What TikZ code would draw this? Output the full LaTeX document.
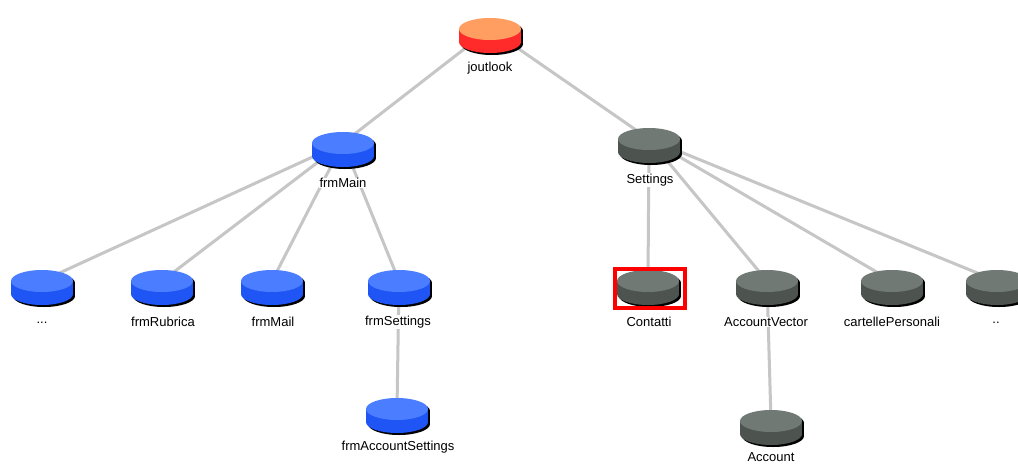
\documentclass[tikz,border=0pt]{standalone}
\usepackage{fontspec}
\setmainfont{Liberation Sans}
\definecolor{bluetop}{HTML}{4A7DFF}
\definecolor{blueside}{HTML}{1F55F5}
\definecolor{graytop}{HTML}{717974}
\definecolor{grayside}{HTML}{4D5450}
\definecolor{redtop}{HTML}{FF9E60}
\definecolor{redside}{HTML}{FF2A2A}
\definecolor{edgegray}{HTML}{C6C6C6}
\tikzset{
  pics/disk/.style 2 args={code={
    \fill[black] (2,2) ellipse [x radius=31, y radius=11];
    \fill[black] (-29,2) rectangle (33,15);
    \fill[black] (2,15) ellipse [x radius=31, y radius=11];
    \fill[#2] (-31,0) rectangle (31,13);
    \fill[#2] (0,13) ellipse [x radius=31, y radius=11];
    \fill[#1] (0,0) ellipse [x radius=31, y radius=11];
  }},
  lbl/.style={font=\fontsize{13}{15}\selectfont, fill=white, inner sep=0.5pt},
  link/.style={draw=edgegray, line width=3pt},
  pt/.style={coordinate}
}
\begin{document}
\begin{tikzpicture}[x=1pt, y=-1pt]
\useasboundingbox (0,0) rectangle (1018,464);
\fill[white] (0,0) rectangle (1018,464);
% centres
\node[pt] (joutlook) at (490,29) {};
\node[pt] (frmMain) at (343,143) {};
\node[pt] (Settings) at (649,139) {};
\node[pt] (dots3) at (42,281) {};
\node[pt] (frmRubrica) at (162,281) {};
\node[pt] (frmMail) at (272,281) {};
\node[pt] (frmSettings) at (399,281) {};
\node[pt] (Contatti) at (648,281) {};
\node[pt] (AccountVector) at (767,281) {};
\node[pt] (cartellePersonali) at (892,281) {};
\node[pt] (dots2) at (997,281) {};
\node[pt] (frmAccountSettings) at (397,409) {};
\node[pt] (Account) at (771,421) {};
% links
\draw[link] (joutlook) -- (frmMain);
\draw[link] (joutlook) -- (Settings);
\draw[link] (frmMain) -- (dots3);
\draw[link] (frmMain) -- (frmRubrica);
\draw[link] (frmMain) -- (frmMail);
\draw[link] (frmMain) -- (frmSettings);
\draw[link] (frmSettings) -- (frmAccountSettings);
\draw[link] (Settings) -- (Contatti);
\draw[link] (Settings) -- (AccountVector);
\draw[link] (Settings) -- (cartellePersonali);
\draw[link] (Settings) -- (dots2);
\draw[link] (AccountVector) -- (Account);
% disks
\pic at (joutlook) {disk={redtop}{redside}};
\pic at (frmMain) {disk={bluetop}{blueside}};
\pic at (dots3) {disk={bluetop}{blueside}};
\pic at (frmRubrica) {disk={bluetop}{blueside}};
\pic at (frmMail) {disk={bluetop}{blueside}};
\pic at (frmSettings) {disk={bluetop}{blueside}};
\pic at (frmAccountSettings) {disk={bluetop}{blueside}};
\pic at (Settings) {disk={graytop}{grayside}};
\pic at (Contatti) {disk={graytop}{grayside}};
\pic at (AccountVector) {disk={graytop}{grayside}};
\pic at (cartellePersonali) {disk={graytop}{grayside}};
\pic at (dots2) {disk={graytop}{grayside}};
\pic at (Account) {disk={graytop}{grayside}};
% selection box
\node[draw=red, line width=4pt, minimum width=70pt, minimum height=39pt, inner sep=0pt] (sel) at (650,288.5) {};
% labels
\node[lbl] (joutlook-l) at (490,68) {joutlook};
\node[lbl] (frmMain-l) at (343,183) {frmMain};
\node[lbl] (Settings-l) at (650,180) {Settings};
\node[lbl] (dots3-l) at (42,323) {...};
\node[lbl] (frmRubrica-l) at (163,322) {frmRubrica};
\node[lbl] (frmMail-l) at (273,322) {frmMail};
\node[lbl] (frmSettings-l) at (398,322) {frmSettings};
\node[lbl] (Contatti-l) at (649,322) {Contatti};
\node[lbl] (AccountVector-l) at (766,322) {AccountVector};
\node[lbl] (cartellePersonali-l) at (892,322) {cartellePersonali};
\node[lbl] (dots2-l) at (996,323) {..};
\node[lbl] (frmAccountSettings-l) at (398,447) {frmAccountSettings};
\node[lbl] (Account-l) at (771,457) {Account};
\end{tikzpicture}
\end{document}
